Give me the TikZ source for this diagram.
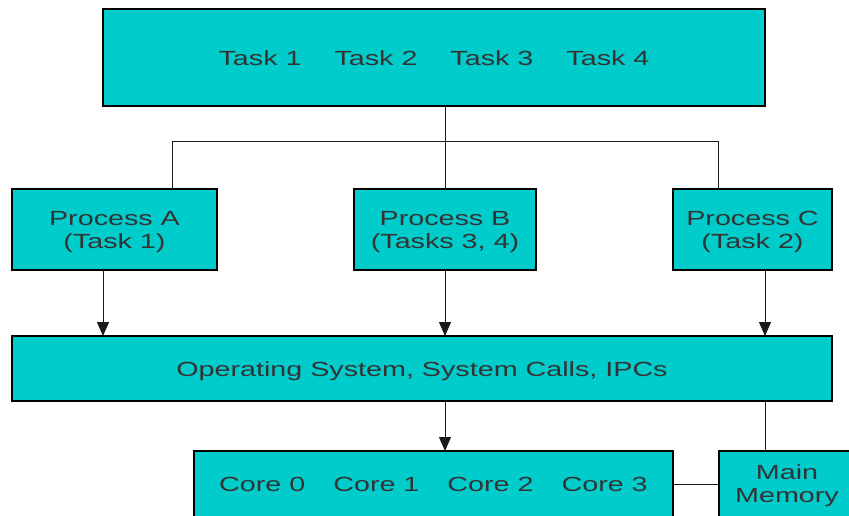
\documentclass[tikz,border=0pt]{standalone}
\usepackage{fontspec}
\setmainfont[FakeStretch=1.4]{Liberation Sans}
\usetikzlibrary{arrows.meta}
\definecolor{boxcyan}{HTML}{00CCCC}
\definecolor{textgrey}{HTML}{333333}
\definecolor{linegrey}{HTML}{1A1A1A}
\begin{document}
\begin{tikzpicture}[x=1pt,y=-1pt,inner sep=0pt,outer sep=0pt,
blk/.style={draw=black,fill=boxcyan,rectangle,line width=1.2pt,text=textgrey,font=\fontsize{20.5}{23}\selectfont,align=center,text height=15.6pt,text depth=0pt},
twoline/.style={text height=37.6pt},
conn/.style={draw=linegrey,line width=1pt},
arr/.style={conn,-{Triangle[length=14pt,width=12pt]}}]
\useasboundingbox (0,0) rectangle (849,515);
\clip (0,0) rectangle (849,515);
% boxes
\node[blk,minimum width=662pt,minimum height=97pt] (tasks) at (434,57.5) {Task 1\hspace{33pt}Task 2\hspace{33pt}Task 3\hspace{33pt}Task 4};
\node[blk,twoline,minimum width=205pt,minimum height=81pt] (procA) at (114.5,229.5) {Process A\\(Task 1)};
\node[blk,twoline,minimum width=182pt,minimum height=81pt] (procB) at (445,229.5) {Process B\\(Tasks 3, 4)};
\node[blk,twoline,minimum width=159pt,minimum height=81pt] (procC) at (752.5,229.5) {Process C\\(Task 2)};
\node[blk,minimum width=820pt,minimum height=65pt] (os) at (422,368.5) {Operating System, System Calls, IPCs};
\node[blk,minimum width=479pt,minimum height=66pt] (cores) at (433.5,484) {Core 0\hspace{28pt}Core 1\hspace{28pt}Core 2\hspace{28pt}Core 3};
\node[blk,twoline,minimum width=136pt,minimum height=66pt] (mem) at (787,484) {Main\\Memory};
% tasks to processes
\coordinate (jA) at (172,141);
\coordinate (jC) at (718,141);
\draw[conn] (tasks.south -| procB) -- (procB.north);
\draw[conn] (jA) -- (jC);
\draw[conn] (jA) -- (jA |- procA.north);
\draw[conn] (jC) -- (jC |- procC.north);
% processes to os
\draw[arr] (procA.south -| tasks.west) -- (os.north -| tasks.west);
\draw[arr] (procB.south) -- (os.north -| procB);
\draw[arr] (procC.south -| tasks.east) -- (os.north -| tasks.east);
% os to hardware
\draw[arr] (os.south -| procB) -- (cores.north -| procB);
\draw[conn] (os.south -| tasks.east) -- (mem.north -| tasks.east);
\draw[conn] (cores.east) -- (mem.west);
\end{tikzpicture}
\end{document}
